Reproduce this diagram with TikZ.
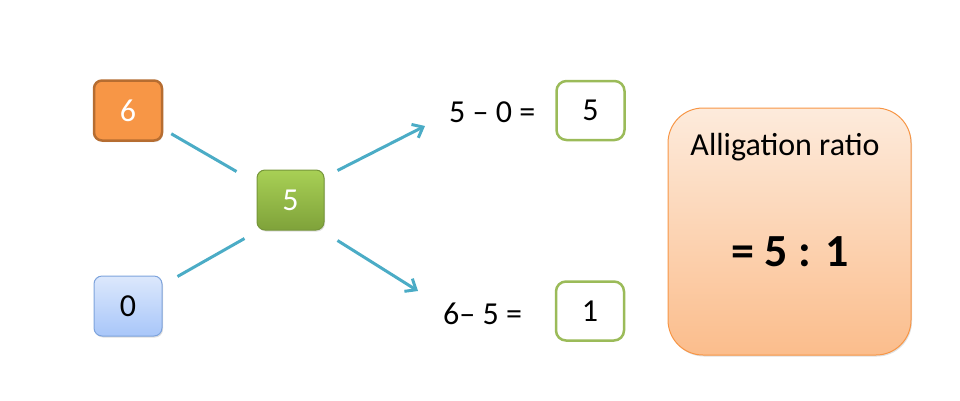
\documentclass[tikz,border=0pt]{standalone}
\usepackage{fontspec}
\setmainfont{Carlito}
\usetikzlibrary{arrows.meta,shadows}
\definecolor{conn}{HTML}{4BACC6}
\definecolor{orfill}{HTML}{F79646}
\definecolor{ordraw}{HTML}{B66D31}
\definecolor{bltop}{HTML}{DCE8FC}
\definecolor{blbot}{HTML}{A8C6F9}
\definecolor{bldraw}{HTML}{7DA3DC}
\definecolor{grtop}{HTML}{A8D055}
\definecolor{grbot}{HTML}{7FA23A}
\definecolor{grdraw}{HTML}{76963A}
\definecolor{resdraw}{HTML}{9BBB59}
\definecolor{bigtop}{HTML}{FDEBDC}
\definecolor{bigbot}{HTML}{FBBD8C}
\tikzset{
  box/.style={rounded corners=8pt, minimum width=68pt, minimum height=60pt, inner sep=0pt, font=\fontsize{32}{36}\selectfont},
  shade1/.style={drop shadow={opacity=0.25, shadow xshift=1pt, shadow yshift=-1.5pt}},
  resbox/.style={rounded corners=10pt, draw=resdraw, line width=2.5pt, fill=white, minimum width=68pt, minimum height=59pt, inner sep=0pt, font=\fontsize{32}{36}\selectfont},
  eqtext/.style={anchor=west, inner sep=0pt, font=\fontsize{32}{36}\selectfont},
  conline/.style={draw=conn, line width=3pt},
  conarrow/.style={draw=conn, line width=3pt, -{Straight Barb[length=9pt,width=15pt,line width=3pt]}}
}
\begin{document}
\begin{tikzpicture}[x=1pt,y=-1pt]
\useasboundingbox (0,0) rectangle (960,400);
% left boxes
\node[box, shade1, fill=orfill, draw=ordraw, line width=2.5pt, text=white] (six) at (128,110.5) {6};
\node[box, shade1, top color=bltop, bottom color=blbot, draw=bldraw, line width=1pt] (zero) at (128,306) {0};
\node[box, shade1, minimum width=67pt, top color=grtop, bottom color=grbot, draw=grdraw, line width=1pt, text=white] (g) at (290.5,200) {5};
% equations
\node[eqtext] (eq1) at (449,112) {5 – 0 =};
\node[eqtext] (eq2) at (443,314) {6– 5 =};
\node[resbox] (r1) at (590.5,110.5) {5};
\node[resbox] (r2) at (590,311) {1};
% big box
\node[rounded corners=35pt, shade1, top color=bigtop, bottom color=bigbot, draw=orfill, line width=1pt, minimum width=243pt, minimum height=247pt] (big) at (789.5,231.5) {};
\node[inner sep=0pt, font=\fontsize{32}{36}\selectfont] (title) at (785,147) {Alligation ratio};
\node[inner sep=0pt, font=\fontsize{46}{52}\selectfont\bfseries] (ratio) at (790,252) {= 5 : 1};
% connectors
\draw[conline] ([shift={(8,-8)}]six.south east) -- ([shift={(-20,2)}]g.north west);
\draw[conline] ([shift={(15,1)}]zero.north east) -- ([shift={(-12,8)}]g.south west);
\draw[conarrow] ([shift={(13,1)}]g.north east) -- ([shift={(-24,14)}]eq1.west);
\draw[conarrow] ([shift={(13,10)}]g.south east) -- ([shift={(-25,-23)}]eq2.west);
\end{tikzpicture}
\end{document}
